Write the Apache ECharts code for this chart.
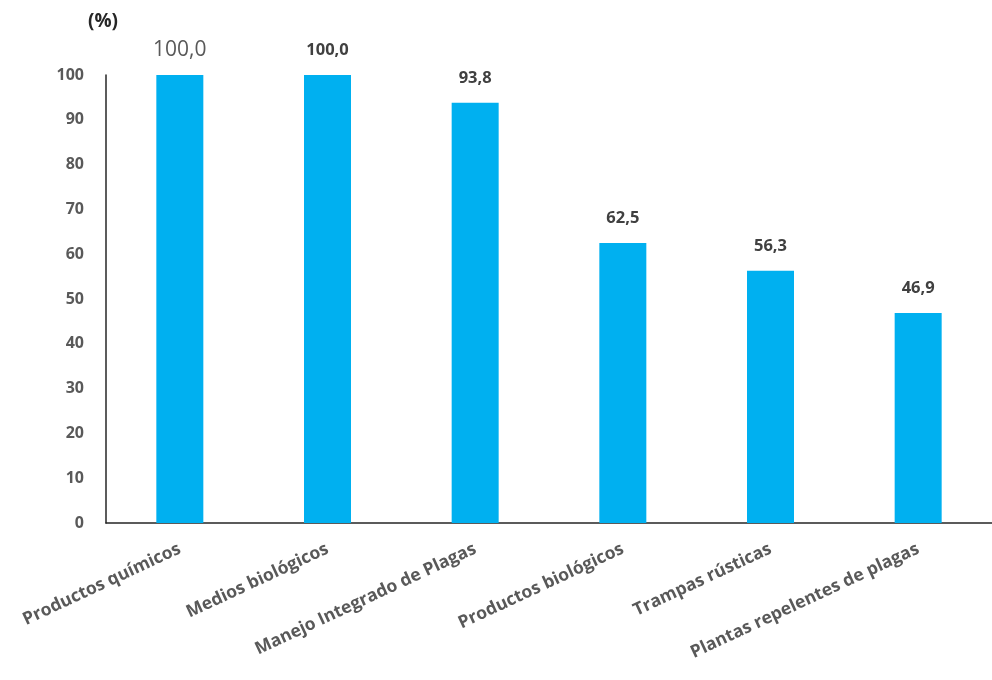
<!DOCTYPE html>
<html><head><meta charset="utf-8">
<script src="https://cdn.jsdelivr.net/npm/echarts@6/dist/echarts.min.js"></script>
<style>html,body{margin:0;padding:0;background:#fff}#c{width:992px;height:680px}</style>
</head><body><div id="c"></div>
<script>
const categories = ['Productos químicos','Medios biológicos','Manejo Integrado de Plagas','Productos biológicos','Trampas rústicas','Plantas repelentes de plagas'];
const values = [100.0, 100.0, 93.8, 62.5, 56.3, 46.9];
const labels = ['100,0','100,0','93,8','62,5','56,3','46,9'];
const unitLabel = '(%)';

const chart = echarts.init(document.getElementById('c'));
chart.setOption({
  animation: false,
  textStyle: {fontFamily: 'Open Sans'},
  graphic: [{type:'text', left: 88, top: 12, style:{text: unitLabel, fontFamily:'Open Sans', fontWeight:'bold', fontSize:19, fill:'#262626'}}],
  grid: {left: 106, top: 75, width: 888, height: 448, containLabel: false},
  xAxis: {
    type: 'category', data: categories,
    axisLine: {lineStyle: {color: '#262626', width: 1.5}},
    axisTick: {show: false},
    axisLabel: {rotate: 25, color: '#595959', fontSize: 17.5, fontWeight: 'bold', margin: 25, interval: 0}
  },
  yAxis: {
    type: 'value', min: 0, max: 100, interval: 10,
    splitLine: {show: false},
    axisLine: {show: true, lineStyle: {color: '#262626', width: 1.5}},
    axisTick: {show: false},
    axisLabel: {color: '#595959', fontSize: 16, fontWeight: 'bold', margin: 22}
  },
  series: [{
    type: 'bar', barWidth: 47,
    itemStyle: {color: '#00B0F0'},
    data: values.map((v, i) => ({
      value: v,
      label: i === 0 ? {fontWeight: 'normal', fontSize: 21, color: '#595959', distance: 14} : {}
    })),
    label: {
      show: true, position: 'top', distance: 16,
      color: '#404040', fontWeight: 'bold', fontSize: 16.5,
      formatter: p => labels[p.dataIndex]
    }
  }]
});
</script></body></html>
